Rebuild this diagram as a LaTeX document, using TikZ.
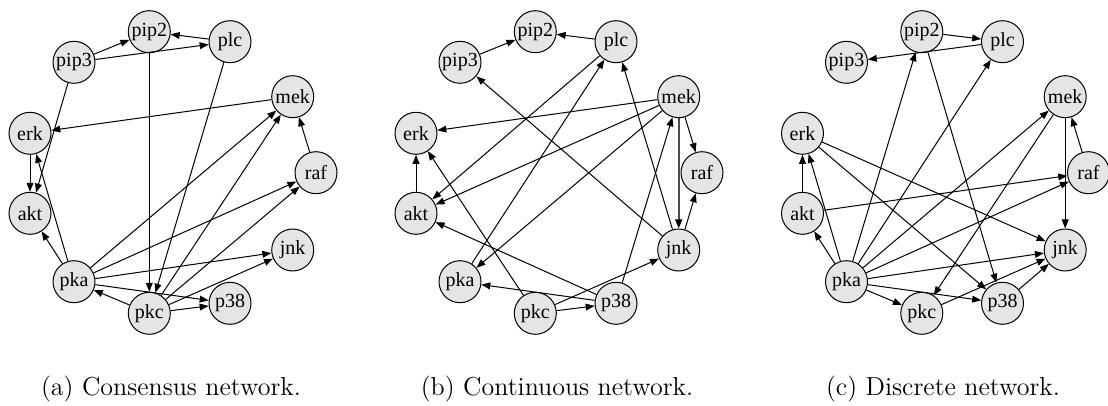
\documentclass[tikz,border=0pt]{standalone}
\usepackage{fontspec}
\newfontfamily\nodefont{Liberation Serif}
\usetikzlibrary{arrows.meta}
\tikzset{
  gn/.style={circle, draw=black, line width=0.5pt, fill=black!10, minimum size=21pt, inner sep=0pt, font=\nodefont\fontsize{10}{11}\selectfont},
  ed/.style={-{Triangle[length=4.5pt,width=3.4pt,color=black]}, line width=0.5pt},
  thk/.style={line width=0.9pt, draw=black!70},
  captxt/.style={font=\fontsize{13}{15}\selectfont, inner sep=0pt},
}
\newcommand\placenet[2]{%
  \begin{scope}[shift={(#2,0)}]
    \node[gn] (#1pip2) at (149.3,31.7) {pip2};
    \node[gn] (#1plc)  at (230,41.7) {plc};
    \node[gn] (#1pip3) at (74,62.3) {pip3};
    \node[gn] (#1mek)  at (292.7,96.7) {mek};
    \node[gn] (#1erk)  at (30,133.3) {erk};
    \node[gn] (#1raf)  at (316,172.7) {raf};
    \node[gn] (#1akt)  at (30,213.3) {akt};
    \node[gn] (#1jnk)  at (292.7,250) {jnk};
    \node[gn] (#1pka)  at (74,281.7) {pka};
    \node[gn] (#1p38)  at (230,303.3) {p38};
    \node[gn] (#1pkc)  at (149.3,313.3) {pkc};
  \end{scope}}
\begin{document}
\begin{tikzpicture}[x=0.5pt,y=-0.5pt]
\useasboundingbox (0,0) rectangle (1108,406);
\placenet{a}{0}
\placenet{b}{386}
\placenet{c}{772.5}
% panel a: consensus
\draw[ed] (apip3) -- (apip2);
\draw[ed] (apip3) -- (aplc);
\draw[ed] (aplc) -- (apip2);
\draw[ed] (apip2) -- (apkc);
\draw[ed] (aplc) -- (apkc);
\draw[ed] (apip3) -- (aakt);
\draw[ed] (amek) -- (aerk);
\draw[ed] (aerk) -- (aakt);
\draw[ed] (apka) -- (aerk);
\draw[ed] (apka) -- (aakt);
\draw[ed] (apka) -- (amek);
\draw[ed] (apka) -- (araf);
\draw[ed] (apka) -- (ajnk);
\draw[ed] (apka) -- (ap38);
\draw[ed] (apkc) -- (apka);
\draw[ed] (apkc) -- (amek);
\draw[ed] (apkc) -- (araf);
\draw[ed] (apkc) -- (ajnk);
\draw[ed] (apkc) -- (ap38);
\draw[ed] (araf) -- (amek);
% panel b: continuous
\draw[ed] (bpip3) -- (bpip2);
\draw[ed] (bplc) -- (bpip2);
\draw[ed] (bplc) -- (bakt);
\draw[ed] (bpka) -- (bplc);
\draw[ed] (bmek) -- (berk);
\draw[ed] (bmek) -- (bakt);
\draw[ed] (bmek) -- (bpka);
\draw[ed,thk] (bmek) -- (bjnk);
\draw[ed] (bmek) -- (braf);
\draw[ed] (bjnk) -- (braf);
\draw[ed] (bjnk) -- (bplc);
\draw[ed] (bjnk) -- (bpip3);
\draw[ed] (bakt) -- (berk);
\draw[ed] (bpkc) -- (berk);
\draw[ed] (bp38) -- (bakt);
\draw[ed] (bp38) -- (bpka);
\draw[ed] (bp38) -- (bmek);
\draw[ed] (bpkc) -- (bjnk);
\draw[ed] (bpkc) -- (bp38);
% panel c: discrete
\draw[ed] (cpip2) -- (cplc);
\draw[ed] (cplc) -- (cpip3);
\draw[ed] (cpka) -- (cpip2);
\draw[ed] (cpka) -- (cplc);
\draw[ed] (cpip2) -- (cp38);
\draw[ed] (cmek) -- (cjnk);
\draw[ed] (craf) -- (cmek);
\draw[ed] (cmek) -- (cpkc);
\draw[ed] (cpka) -- (cmek);
\draw[ed] (cerk) -- (cjnk);
\draw[ed] (cerk) -- (cp38);
\draw[ed] (cakt) -- (cerk);
\draw[ed] (cakt) -- (craf);
\draw[ed] (cpka) -- (craf);
\draw[ed] (cpka) -- (cerk);
\draw[ed] (cpka) -- (cakt);
\draw[ed] (cpka) -- (cjnk);
\draw[ed] (cpka) -- (cpkc);
\draw[ed] (cpka) -- (cp38);
\draw[ed] (cpkc) -- (cjnk);
\draw[ed] (cp38) -- (cjnk);
% captions
\node[captxt] (capa) at (171,389) {(a) Consensus network.};
\node[captxt] (capb) at (557,389) {(b) Continuous network.};
\node[captxt] (capc) at (943,389) {(c) Discrete network.};
\end{tikzpicture}
\end{document}
